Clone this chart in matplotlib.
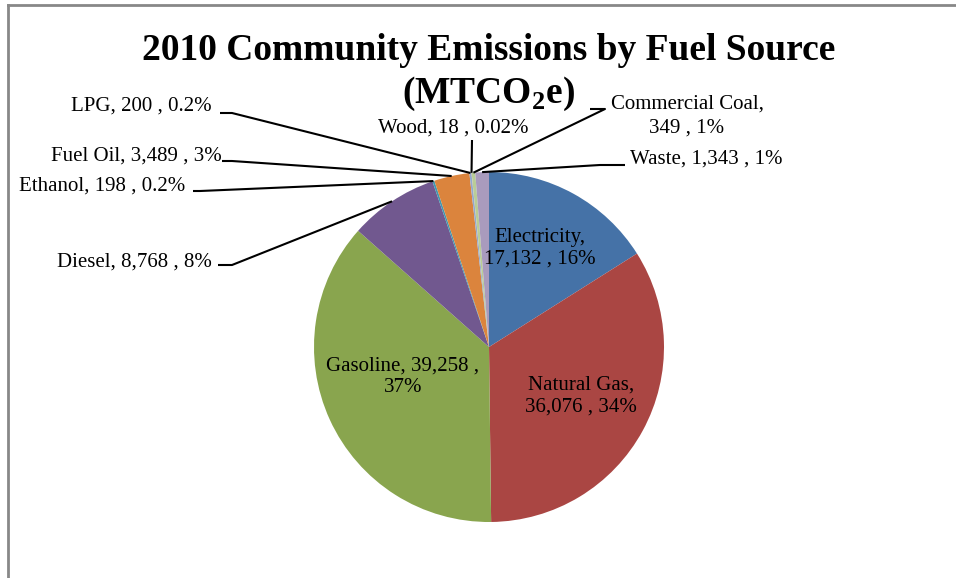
import matplotlib.pyplot as plt
import numpy as np

plt.rcParams['font.family'] = ['Liberation Serif', 'DejaVu Serif']

# data
fuels = ['Electricity', 'Natural Gas', 'Gasoline', 'Diesel', 'Ethanol',
         'Fuel Oil', 'LPG', 'Wood', 'Commercial Coal', 'Waste']
emissions = [17132, 36076, 39258, 8768, 198, 3489, 200, 18, 349, 1343]
labels = ['Electricity,\n17,132 , 16%', 'Natural Gas,\n36,076 , 34%',
          'Gasoline, 39,258 ,\n37%', 'Diesel, 8,768 , 8%',
          'Ethanol, 198 , 0.2%', 'Fuel Oil, 3,489 , 3%', 'LPG, 200 , 0.2%',
          'Wood, 18 , 0.02%', 'Commercial Coal,\n349 , 1%', 'Waste, 1,343 , 1%']
colors = ['#4572A7', '#AA4643', '#89A54E', '#71588F', '#4198AF',
          '#DB843D', '#93A9CF', '#D19392', '#B9CD96', '#A99BBD']

W, H = 956, 578
cx, cy, R = 489, 347, 175


def px(x, y):
    # pixel position -> data coords (pie radius = 1)
    return (x - cx) / R, (cy - y) / R


fig = plt.figure(figsize=(W / 100, H / 100), dpi=100)
ax = fig.add_axes([0, 0, 1, 1])

wedges, _ = ax.pie(emissions, colors=colors, startangle=90, counterclock=False,
                   radius=1, center=(0, 0), frame=True,
                   wedgeprops=dict(linewidth=0))
ax.set_xlim(-cx / R, (W - cx) / R)
ax.set_ylim((cy - H) / R, cy / R)
ax.set_aspect('equal')
ax.axis('off')

# labels inside the pie
inside = {0: (540, 248), 1: (581, 396), 2: (403, 377)}
for i, (x, y) in inside.items():
    ax.text(*px(x, y), labels[i], ha='center', va='center', fontsize=15,
            linespacing=1.15)

# outside labels: text position, text anchor, elbow start, elbow end
outside = {
    3: ((212, 262), 'right', (218, 265), (232, 265)),
    4: ((185, 186), 'right', (193, 191), (200, 191)),
    5: ((222, 156), 'right', (222, 161), (232, 161)),
    6: ((212, 106), 'right', (220, 113), (232, 113)),
    7: ((453, 128), 'center', (472, 140), (472, 140)),
    8: ((687, 116), 'center', (590, 109), (605, 109)),
    9: ((630, 159), 'left', (625, 165), (600, 165)),
}
for i, ((tx, ty), ha, p0, p1) in outside.items():
    w = wedges[i]
    mid = np.deg2rad((w.theta1 + w.theta2) / 2)
    ex, ey = np.cos(mid), np.sin(mid)
    ax.text(*px(tx, ty), labels[i], ha=ha, va='center', fontsize=15,
            linespacing=1.4)
    xs = [px(*p0)[0], px(*p1)[0], ex]
    ys = [px(*p0)[1], px(*p1)[1], ey]
    ax.plot(xs, ys, color='black', lw=1.5, solid_capstyle='butt')

fig.text(489 / W, 1 - 51 / H, '2010 Community Emissions by Fuel Source',
         ha='center', va='center', fontsize=27, fontweight='bold')
fig.text(489 / W, 1 - 94 / H, r'(MTCO$_\mathregular{2}$e)',
         ha='center', va='center', fontsize=27, fontweight='bold')

# gray frame (top and left edges)
ax.add_line(plt.Line2D([8 / W, 1], [1 - 5 / H, 1 - 5 / H], transform=fig.transFigure,
                       color='#888888', lw=2))
ax.add_line(plt.Line2D([8 / W, 8 / W], [0, 1 - 5 / H], transform=fig.transFigure,
                       color='#888888', lw=2))

fig.savefig('out.png', dpi=100)
